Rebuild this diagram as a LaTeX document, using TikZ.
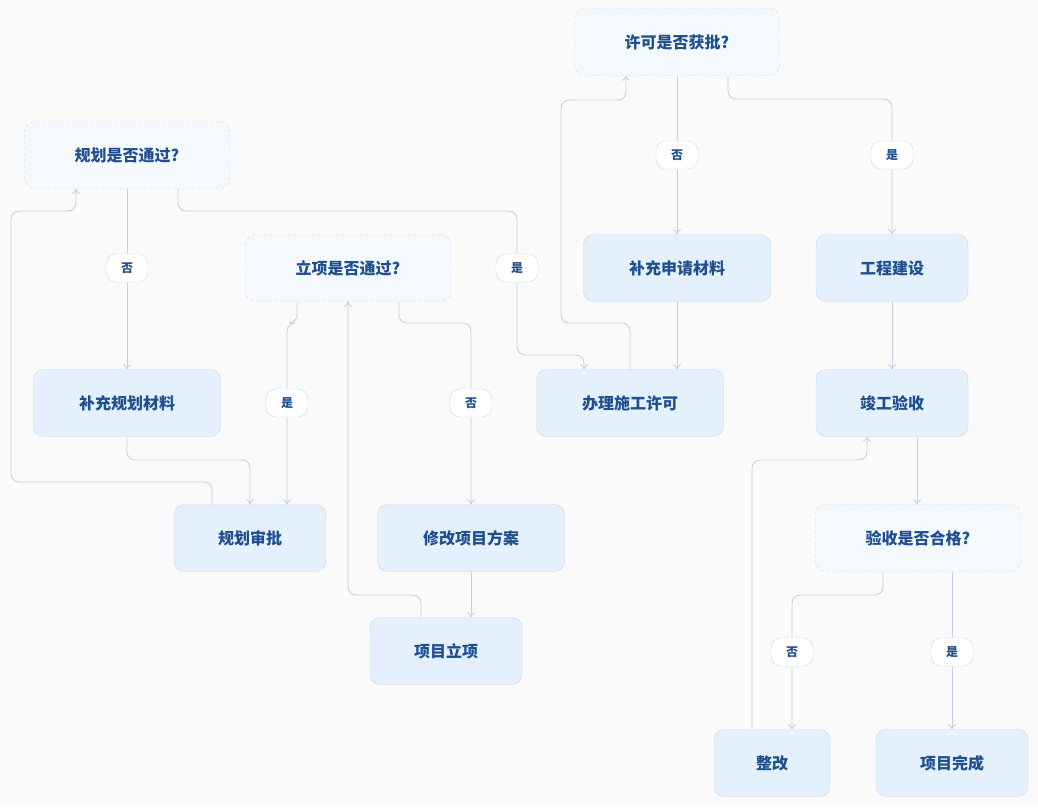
\documentclass[tikz,border=0pt]{standalone}
\usepackage{fontspec}
\setmainfont{Noto Sans CJK SC}
\usetikzlibrary{arrows.meta}
\definecolor{txtblue}{HTML}{1F4F8F}
\definecolor{boxfill}{HTML}{E4F0FC}
\definecolor{boxline}{HTML}{C9D9EA}
\definecolor{askfill}{HTML}{F4F9FE}
\definecolor{wire}{HTML}{C6D2DE}
\tikzset{
  flowbox/.style={draw=boxline, fill=boxfill, rounded corners=10pt, minimum height=67pt, text=txtblue, font=\fontsize{16}{18}\selectfont\bfseries},
  ask/.style={flowbox, fill=askfill, dashed, minimum width=205pt},
  tag/.style={draw=boxline, fill=white, rounded corners=10pt, minimum width=42pt, minimum height=28pt, text=txtblue, font=\fontsize{12}{14}\selectfont\bfseries},
  link/.style={draw=wire, line width=0.9pt, rounded corners=8pt, -{To[length=5pt,width=8pt]}}
}
\begin{document}
\begin{tikzpicture}[x=1pt,y=-1pt]
  \fill[white!98!black] (0,0) rectangle (1038,807);
  \useasboundingbox (0,0) rectangle (1038,807);
  % decisions
  \node (planq) at (127,155) [ask] {规划是否通过?};
  \node (projq) at (348,268) [ask] {立项是否通过?};
  \node (permq) at (677,42) [ask] {许可是否获批?};
  \node (checkq) at (918,538) [ask] {验收是否合格?};
  % steps
  \node (addplan) at (127,403) [flowbox, minimum width=187pt] {补充规划材料};
  \node (planok) at (250,538) [flowbox, minimum width=152pt] {规划审批};
  \node (revise) at (471,538) [flowbox, minimum width=187pt] {修改项目方案};
  \node (start) at (446,651) [flowbox, minimum width=152pt] {项目立项};
  \node (permit) at (630,403) [flowbox, minimum width=187pt] {办理施工许可};
  \node (addperm) at (677,268) [flowbox, minimum width=187pt] {补充申请材料};
  \node (build) at (892,268) [flowbox, minimum width=152pt] {工程建设};
  \node (accept) at (892,403) [flowbox, minimum width=152pt] {竣工验收};
  \node (fix) at (772,763) [flowbox, minimum width=116pt] {整改};
  \node (done) at (952,763) [flowbox, minimum width=152pt] {项目完成};
  % connectors
  \draw[link] (planq.south -| 178,0) |- (517,211) |- (584,355) -- (permit.north -| 584,0);
  \draw[link] (planq) -- (addplan);
  \draw[link] (addplan) |- (250,460) -- (planok);
  \draw[link] (planok.north -| 212,0) |- (11,482) |- (76,211) -- (planq.south -| 76,0);
  \draw[link] (projq.south -| 297,0) |- (287,323) -- (planok.north -| 287,0);
  \draw[link] (projq.south -| 399,0) |- (471,323) -- (revise);
  \draw[link] (revise) -- (start.north -| 471,0);
  \draw[link] (start.north -| 421,0) |- (348,595) -- (projq.south -| 348,0);
  \draw[link] (permit.north) |- (561,323) |- (626,100) -- (permq.south -| 626,0);
  \draw[link] (permq) -- (addperm);
  \draw[link] (permq.south -| 728,0) |- (892,99) -- (build);
  \draw[link] (addperm) -- (addperm |- permit.north);
  \draw[link] (build) -- (accept);
  \draw[link] (accept.south -| 917,0) -- (checkq.north -| 917,0);
  \draw[link] (checkq.south -| 883,0) |- (792,595) -- (fix.north -| 792,0);
  \draw[link] (checkq.south -| 952,0) -- (done);
  \draw[link] (fix.north -| 752,0) |- (867,460) -- (accept.south -| 867,0);
  % labels
  \node (no1) at (127,268) [tag] {否};
  \node (yes1) at (517,268) [tag] {是};
  \node (yes2) at (287,403) [tag] {是};
  \node (no2) at (471,403) [tag] {否};
  \node (no3) at (677,155) [tag] {否};
  \node (yes3) at (892,155) [tag] {是};
  \node (no4) at (792,652) [tag] {否};
  \node (yes4) at (952,652) [tag] {是};
\end{tikzpicture}
\end{document}
